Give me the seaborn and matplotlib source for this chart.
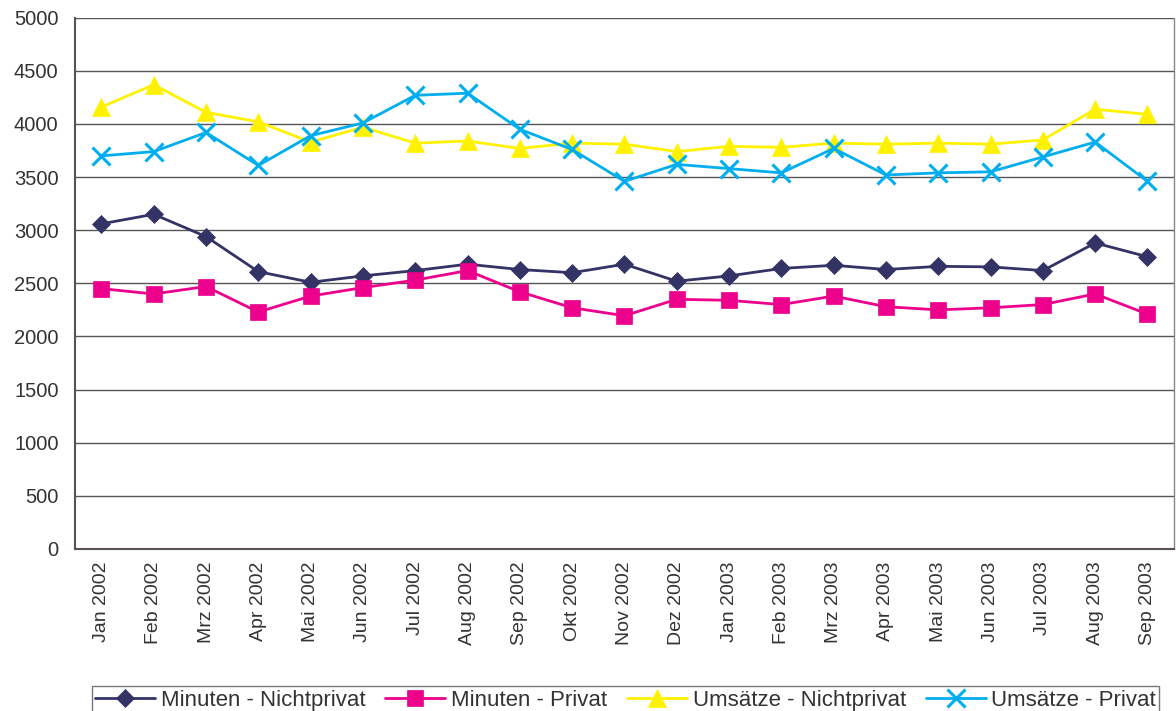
import pandas as pd
import numpy as np
import matplotlib
matplotlib.use('Agg')
import matplotlib.pyplot as plt
import seaborn as sns

months = ['Jan 2002', 'Feb 2002', 'Mrz 2002', 'Apr 2002', 'Mai 2002', 'Jun 2002',
          'Jul 2002', 'Aug 2002', 'Sep 2002', 'Okt 2002', 'Nov 2002', 'Dez 2002',
          'Jan 2003', 'Feb 2003', 'Mrz 2003', 'Apr 2003', 'Mai 2003', 'Jun 2003',
          'Jul 2003', 'Aug 2003', 'Sep 2003']

min_nichtprivat = [3060, 3150, 2940, 2610, 2510, 2570, 2620, 2680, 2630, 2600, 2680,
                   2520, 2570, 2640, 2670, 2630, 2660, 2655, 2620, 2880, 2750]
min_privat = [2450, 2400, 2470, 2230, 2380, 2460, 2530, 2620, 2420, 2270, 2195,
              2350, 2340, 2300, 2380, 2280, 2250, 2270, 2300, 2400, 2210]
ums_nichtprivat = [4160, 4370, 4110, 4020, 3830, 3970, 3820, 3840, 3770, 3820, 3810,
                   3740, 3790, 3780, 3820, 3810, 3820, 3810, 3850, 4140, 4090]
ums_privat = [3700, 3740, 3920, 3610, 3890, 4010, 4270, 4290, 3950, 3760, 3460,
              3620, 3580, 3540, 3770, 3520, 3540, 3550, 3690, 3830, 3460]

series = ['Minuten - Nichtprivat', 'Minuten - Privat',
          'Umsätze - Nichtprivat', 'Umsätze - Privat']

df = pd.DataFrame({'pos': np.arange(len(months)),
                   series[0]: min_nichtprivat, series[1]: min_privat,
                   series[2]: ums_nichtprivat, series[3]: ums_privat})
long = df.melt(id_vars='pos', var_name='serie', value_name='wert')

sns.set_style('white')
plt.rcParams['font.family'] = ['Liberation Sans', 'DejaVu Sans']

palette = {series[0]: '#333366', series[1]: '#EC008C',
           series[2]: '#FFF200', series[3]: '#00AEEF'}
markers = {series[0]: 'D', series[1]: 's', series[2]: '^', series[3]: 'x'}
msize = {series[0]: 9, series[1]: 12, series[2]: 13, series[3]: 13}

fig = plt.figure(figsize=(11.76, 7.11), dpi=100)
ax = fig.add_axes([0.064, 0.228, 0.934, 0.747])

for s in series:
    sub = long[long.serie == s]
    sns.lineplot(data=sub, x='pos', y='wert', color=palette[s], marker=markers[s],
                 markersize=msize[s], markeredgewidth=2.2 if s == series[3] else 0.5,
                 markeredgecolor=palette[s], linewidth=2, ax=ax, label=s)

ax.set_xlim(-0.5, len(months) - 0.5)
ax.set_ylim(0, 5000)
ax.set_yticks(range(0, 5001, 500))
ax.set_xticks(np.arange(len(months) + 1) - 0.5, minor=False)
ax.set_xticklabels([])
ax.set_xticks(np.arange(len(months)), minor=True)
ax.set_xticklabels(months, minor=True, rotation=90, fontsize=14)
ax.tick_params(axis='x', which='minor', length=0, pad=9)
ax.tick_params(axis='x', which='major', length=6, direction='out', color='#5a5050')
ax.tick_params(axis='y', length=6, direction='out', color='#5a5050', labelsize=14.5, pad=6)
ax.set_xlabel('')
ax.set_ylabel('')
ax.yaxis.grid(True, color='#555555', linewidth=1)
ax.set_axisbelow(True)
for side in ['top', 'right']:
    ax.spines[side].set_visible(False)
ax.spines['left'].set_color('#5a5050')
ax.spines['left'].set_linewidth(1.5)
ax.spines['bottom'].set_color('#5a5050')
ax.spines['bottom'].set_linewidth(1.5)
ax.plot([1, 1], [0, 1], transform=ax.transAxes, color='#888888', linewidth=1, clip_on=False)
for lbl in ax.get_xticklabels(minor=True) + ax.get_yticklabels():
    lbl.set_color('#333333')

handles, labels = ax.get_legend_handles_labels()
ax.get_legend().remove()
leg = fig.legend(handles, labels, loc='lower center', ncol=4, bbox_to_anchor=(0.532, -0.004),
                 frameon=True, fancybox=False, edgecolor='#555555', fontsize=16,
                 handlelength=2.7, columnspacing=0.9, handletextpad=0.25,
                 borderpad=0.15, borderaxespad=0)
leg.get_frame().set_linewidth(1)
for t in leg.get_texts():
    t.set_color('#333333')

fig.savefig('out.png', dpi=100)
